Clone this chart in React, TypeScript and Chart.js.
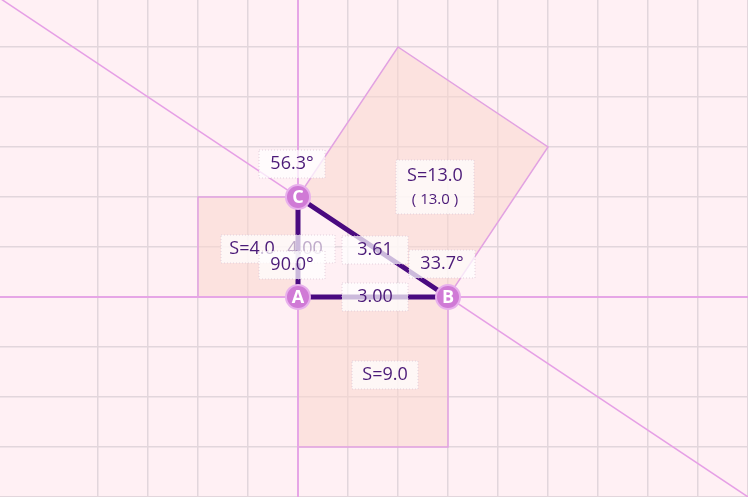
import React, { useEffect, useRef } from 'react';
import Chart from 'chart.js/auto';

// triangle vertices (grid units)
const pointNames = ['A', 'B', 'C'];
const pointX = [0, 3, 0];
const pointY = [0, 0, 2];

// squares on each side
const squareAB = [[0, 0], [3, 0], [3, -3], [0, -3]];
const squareAC = [[0, 0], [0, 2], [-2, 2], [-2, 0]];
const squareBC = [[0, 2], [3, 0], [5, 3], [2, 5]];

// extended line through B and C
const lineBCx = [-6, 9.5];
const lineBCy = [6, -4.333];

// labels
const labelText = ['56.3°', '90.0°', '33.7°', '3.61', '3.00', 'S=9.0'];
const labelX = [-0.12, -0.12, 2.88, 1.54, 1.54, 1.74];
const labelY = [2.66, 0.64, 0.66, 0.94, 0, -1.56];

export default function App() {
    const canvasRef = useRef<HTMLCanvasElement>(null);
    const chartRef = useRef<Chart | null>(null);

    useEffect(() => {
        document.body.style.margin = '0';
        if (!canvasRef.current) return;
        if (chartRef.current) chartRef.current.destroy();

        const px = (c: Chart, x: number) => c.scales.x.getPixelForValue(x);
        const py = (c: Chart, y: number) => c.scales.y.getPixelForValue(y);

        const box = (ctx: CanvasRenderingContext2D, cx: number, cy: number, w: number, h: number) => {
            ctx.save();
            ctx.fillStyle = 'rgba(255,255,255,0.72)';
            ctx.strokeStyle = 'rgba(220,200,215,0.8)';
            ctx.setLineDash([1, 2]);
            ctx.lineWidth = 1;
            ctx.fillRect(cx - w / 2, cy - h / 2, w, h);
            ctx.strokeRect(cx - w / 2, cy - h / 2, w, h);
            ctx.restore();
        };

        const overlay = {
            id: 'overlay',
            beforeDatasetsDraw(c: Chart) {
                const ctx = c.ctx;
                ctx.save();
                for (const sq of [squareAB, squareAC, squareBC]) {
                    ctx.beginPath();
                    sq.forEach(([x, y], i) => i ? ctx.lineTo(px(c, x), py(c, y)) : ctx.moveTo(px(c, x), py(c, y)));
                    ctx.closePath();
                    ctx.fillStyle = 'rgba(250,215,205,0.55)';
                    ctx.fill();
                    ctx.strokeStyle = '#e2a2e2';
                    ctx.lineWidth = 1.5;
                    ctx.stroke();
                }
                ctx.restore();
            },
            afterDatasetsDraw(c: Chart) {
                const ctx = c.ctx;
                ctx.save();
                // triangle sides
                ctx.beginPath();
                pointX.forEach((x, i) => i ? ctx.lineTo(px(c, x), py(c, pointY[i])) : ctx.moveTo(px(c, x), py(c, pointY[i])));
                ctx.closePath();
                ctx.strokeStyle = '#4a0a80';
                ctx.lineWidth = 5;
                ctx.lineJoin = 'round';
                ctx.stroke();

                ctx.font = '18px "Open Sans", sans-serif';
                ctx.textAlign = 'center';
                ctx.textBaseline = 'middle';
                // S=4.0 label with overlapped value
                const sx = px(c, -0.92), sy = py(c, 0.96);
                box(ctx, px(c, -0.4), sy, 114, 28);
                ctx.fillStyle = 'rgba(150,120,170,0.6)';
                ctx.fillText('4.00', px(c, 0.14), sy);
                ctx.fillStyle = '#4b1a78';
                ctx.fillText('S=4.0', sx, sy);
                // S=13.0 label
                const tx = px(c, 2.74);
                box(ctx, tx, py(c, 2.2), 78, 54);
                ctx.fillStyle = '#4b1a78';
                ctx.fillText('S=13.0', tx, py(c, 2.42));
                ctx.font = '15px "Open Sans", sans-serif';
                ctx.fillText('( 13.0 )', tx, py(c, 1.94));
                ctx.font = '18px "Open Sans", sans-serif';
                labelText.forEach((t, i) => {
                    const lx = px(c, labelX[i]), ly = py(c, labelY[i]);
                    box(ctx, lx, ly, 66, 28);
                    ctx.fillStyle = '#4b1a78';
                    ctx.fillText(t, lx, ly);
                });

                // vertices
                ctx.font = 'bold 18px "Open Sans", sans-serif';
                pointNames.forEach((n, i) => {
                    const x = px(c, pointX[i]), y = py(c, pointY[i]);
                    ctx.beginPath();
                    ctx.arc(x, y, 12, 0, Math.PI * 2);
                    ctx.fillStyle = '#d07ad6';
                    ctx.fill();
                    ctx.lineWidth = 2;
                    ctx.strokeStyle = '#e8b0ec';
                    ctx.stroke();
                    ctx.fillStyle = '#ffffff';
                    ctx.fillText(n, x, y + 1);
                });
                ctx.restore();
            },
        };

        const bg = {
            id: 'bg',
            beforeDraw(c: Chart) {
                c.ctx.save();
                c.ctx.fillStyle = '#fff0f4';
                c.ctx.fillRect(0, 0, c.width, c.height);
                c.ctx.restore();
            },
        };

        const seg = (xs: number[], ys: number[]) => xs.map((x, i) => ({ x, y: ys[i] }));
        const intTicks = (s: any) => { s.ticks = s.ticks.filter((t: any) => Number.isInteger(t.value)); };

        chartRef.current = new Chart(canvasRef.current, {
            type: 'scatter',
            data: {
                datasets: [
                    { label: 'xaxis', data: seg([-7, 10], [0, 0]), showLine: true, borderColor: '#e6a6e6', borderWidth: 2, pointRadius: 0 },
                    { label: 'yaxis', data: seg([0, 0], [-5, 7]), showLine: true, borderColor: '#e6a6e6', borderWidth: 2, pointRadius: 0 },
                    { label: 'lineBC', data: seg(lineBCx, lineBCy), showLine: true, borderColor: '#e6a0e6', borderWidth: 1.5, pointRadius: 0 },
                ],
            },
            options: {
                responsive: false,
                animation: false,
                layout: { padding: 0, autoPadding: false },
                plugins: { legend: { display: false }, tooltip: { enabled: false } },
                scales: {
                    x: {
                        type: 'linear', min: -5.96, max: 9, afterBuildTicks: intTicks,
                        ticks: { display: false, stepSize: 1 },
                        grid: { color: '#e2d6dc', lineWidth: 1.5, drawTicks: false },
                        border: { display: false },
                    },
                    y: {
                        type: 'linear', min: -4, max: 5.94, afterBuildTicks: intTicks,
                        ticks: { display: false, stepSize: 1 },
                        grid: { color: '#e2d6dc', lineWidth: 1.5, drawTicks: false },
                        border: { display: false },
                    },
                },
            },
            plugins: [bg, overlay],
        });

        return () => {
            if (chartRef.current) chartRef.current.destroy();
        };
    }, []);

    return <canvas ref={canvasRef} width={748} height={497} style={{ display: 'block' }}></canvas>;
}
